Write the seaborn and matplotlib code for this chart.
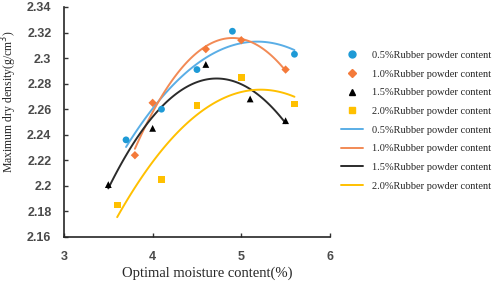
import numpy as np
import pandas as pd
import matplotlib
matplotlib.use("Agg")
import matplotlib.pyplot as plt
import seaborn as sns

# data
labels = ["0.5%Rubber powder content", "1.0%Rubber powder content",
          "1.5%Rubber powder content", "2.0%Rubber powder content"]
x_05 = [3.7, 4.1, 4.5, 4.9, 5.6]
y_05 = [2.236, 2.260, 2.291, 2.321, 2.303]
x_10 = [3.8, 4.0, 4.6, 5.0, 5.5]
y_10 = [2.224, 2.265, 2.307, 2.314, 2.291]
x_15 = [3.5, 4.0, 4.6, 5.1, 5.5]
y_15 = [2.201, 2.245, 2.295, 2.268, 2.251]
x_20 = [3.6, 4.1, 4.5, 5.0, 5.6]
y_20 = [2.185, 2.205, 2.263, 2.285, 2.264]

xs = [x_05, x_10, x_15, x_20]
ys = [y_05, y_10, y_15, y_20]
markers = ["o", "D", "^", "s"]
mcolors = ["#1e9ad6", "#f47a3a", "#000000", "#ffc000"]
lcolors = ["#5aaee6", "#f28a55", "#2b2b2b", "#ffc000"]

sns.set_style("ticks")
plt.rcParams["font.family"] = ["Liberation Serif", "DejaVu Serif"]

fig = plt.figure(figsize=(4.98, 2.84), dpi=100)
ax = fig.add_axes([0.1285, 0.1655, 0.534, 0.81])

pts = []
lines = []
for i in range(4):
    df = pd.DataFrame({"x": xs[i], "y": ys[i]})
    sns.scatterplot(data=df, x="x", y="y", ax=ax, marker=markers[i], color=mcolors[i],
                    s=24 if markers[i] != "D" else 18, edgecolor="none", zorder=3)
    pts.append(plt.Line2D([], [], ls="none", marker=markers[i], color=mcolors[i],
                          markersize=5 if markers[i] != "D" else 4.2))
    # 2nd order polynomial trend line
    c = np.polyfit(xs[i], ys[i], 2)
    xf = np.linspace(min(xs[i]), max(xs[i]), 100)
    fit = pd.DataFrame({"x": xf, "y": np.polyval(c, xf)})
    sns.lineplot(data=fit, x="x", y="y", ax=ax, color=lcolors[i], lw=1.4, zorder=2)
    lines.append(plt.Line2D([], [], color=lcolors[i], lw=1.4))

ax.set_xlim(3, 6)
ax.set_ylim(2.16, 2.34)
ax.set_xticks([3, 4, 5, 6])
ax.set_yticks(np.arange(2.16, 2.341, 0.02))
ax.set_yticklabels(["2.16", "2.18", "2.2", "2.22", "2.24", "2.26", "2.28", "2.3", "2.32", "2.34"])
ax.tick_params(direction="in", length=3, width=1, labelsize=9, colors="#333333")
ax.tick_params(axis="y", pad=9)
ax.tick_params(axis="x", pad=10)
for t in ax.get_xticklabels() + ax.get_yticklabels():
    t.set_family(["Liberation Sans", "DejaVu Sans"])
    t.set_fontweight("bold")
    t.set_color("#4a4a4a")
sns.despine(ax=ax)
ax.spines["left"].set_linewidth(1.2)
ax.spines["bottom"].set_linewidth(1.2)
ax.set_xlabel("Optimal moisture content(%)", fontsize=10.5)
ax.set_ylabel("Maximum dry density(g/cm$^3$)", fontsize=8.5)
ax.xaxis.set_label_coords(0.54, -0.13)
ax.yaxis.set_label_coords(-0.17, 0.59)

fig.legend(pts + lines, labels + labels, loc="upper left", bbox_to_anchor=(0.665, 0.855),
           frameon=False, fontsize=7.5, handlelength=2.2, labelspacing=0.9,
           handletextpad=0.8)

fig.savefig("out.png", dpi=100)
